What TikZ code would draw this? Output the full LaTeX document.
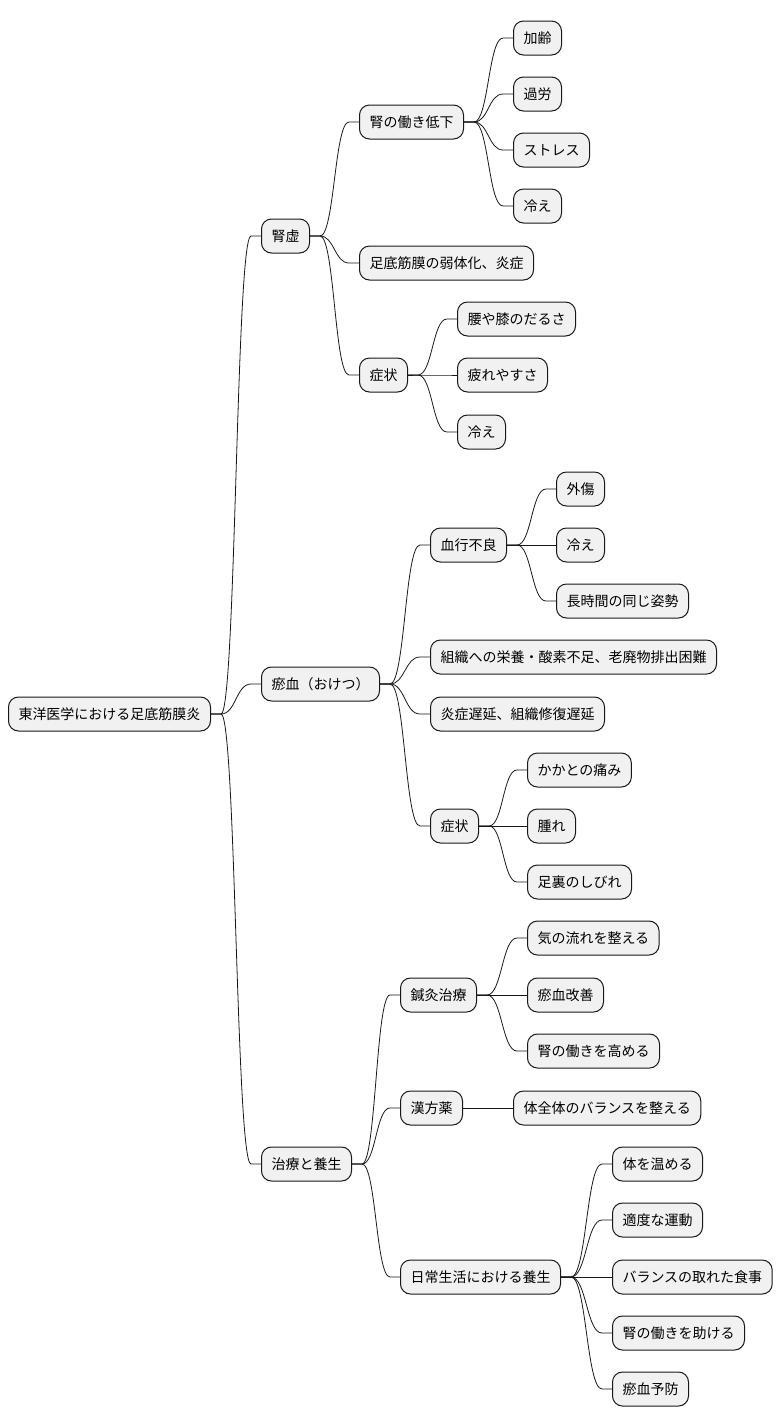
\documentclass[tikz,border=0pt]{standalone}
\usepackage{fontspec}
\setmainfont{Noto Sans CJK JP}
\usepackage{tikz}
\usetikzlibrary{calc}
\usepackage{xcolor}
\definecolor{boxfill}{HTML}{F1F1F1}
\definecolor{boxline}{HTML}{181818}

\tikzset{
  topic/.style={draw=boxline, fill=boxfill, line width=1pt, rounded corners=10pt,
    minimum height=34pt, inner xsep=10pt, inner ysep=0pt, anchor=west,
    text height=12pt, text depth=2pt, font=\fontsize{14}{16}\selectfont},
  link/.style={draw=boxline, line width=0.8pt}
}

% parent -> child, short stubs and an S curve
\newcommand{\branch}[2]{%
  \draw[link] let \p1=($(#1.east)+(10pt,0)$), \p2=($(#2.west)+(-10pt,0)$),
    \n1={0.5*(\x1+\x2)} in
    (#1.east) -- (\p1) .. controls (\n1,\y1) and (\n1,\y2) .. (\p2) -- (#2.west);}

\begin{document}
\begin{tikzpicture}[x=1pt,y=-1pt]
\useasboundingbox (0,0) rectangle (782,1428);

% Root
\node[topic] (root) at (8,714) {東洋医学における足底筋膜炎};

% 腎虚
\node[topic] (jinkyo) at (261,236) {腎虚};
\node[topic] (teika) at (359,122) {腎の働き低下};
\node[topic] (karei) at (513,38) {加齢};
\node[topic] (karou) at (513,94) {過労};
\node[topic] (stress) at (513,150) {ストレス};
\node[topic] (hieA) at (513,206) {冷え};
\node[topic] (jakutai) at (359,263) {足底筋膜の弱体化、炎症};
\node[topic] (shojoA) at (359,375) {症状};
\node[topic] (darusa) at (457,319) {腰や膝のだるさ};
\node[topic] (tsukare) at (457,375) {疲れやすさ};
\node[topic] (hieB) at (457,432) {冷え};

% 瘀血
\node[topic] (oketsu) at (261,684) {瘀血（おけつ）};
\node[topic] (furyo) at (430,545) {血行不良};
\node[topic] (gaisho) at (556,489) {外傷};
\node[topic] (hieC) at (556,545) {冷え};
\node[topic] (shisei) at (556,601) {長時間の同じ姿勢};
\node[topic] (eiyou) at (430,657) {組織への栄養・酸素不足、老廃物排出困難};
\node[topic] (chien) at (430,714) {炎症遅延、組織修復遅延};
\node[topic] (shojoB) at (430,826) {症状};
\node[topic] (itami) at (527,770) {かかとの痛み};
\node[topic] (hare) at (527,826) {腫れ};
\node[topic] (shibire) at (527,882) {足裏のしびれ};

% 治療と養生
\node[topic] (chiryo) at (261,1164) {治療と養生};
\node[topic] (shinkyu) at (400,995) {鍼灸治療};
\node[topic] (nagare) at (527,938) {気の流れを整える};
\node[topic] (kaizen) at (527,995) {瘀血改善};
\node[topic] (takameru) at (527,1051) {腎の働きを高める};
\node[topic] (kampo) at (400,1108) {漢方薬};
\node[topic] (zentai) at (513,1108) {体全体のバランスを整える};
\node[topic] (nichijo) at (400,1277) {日常生活における養生};
\node[topic] (atatame) at (612,1164) {体を温める};
\node[topic] (undo) at (612,1220) {適度な運動};
\node[topic] (shokuji) at (612,1277) {バランスの取れた食事};
\node[topic] (tasukeru) at (612,1333) {腎の働きを助ける};
\node[topic] (yobo) at (612,1389) {瘀血予防};

% Connectors
\foreach \a/\b in {root/jinkyo, root/oketsu, root/chiryo,
    jinkyo/teika, jinkyo/jakutai, jinkyo/shojoA,
    teika/karei, teika/karou, teika/stress, teika/hieA,
    shojoA/darusa, shojoA/tsukare, shojoA/hieB,
    oketsu/furyo, oketsu/eiyou, oketsu/chien, oketsu/shojoB,
    furyo/gaisho, furyo/hieC, furyo/shisei,
    shojoB/itami, shojoB/hare, shojoB/shibire,
    chiryo/shinkyu, chiryo/kampo, chiryo/nichijo,
    shinkyu/nagare, shinkyu/kaizen, shinkyu/takameru,
    kampo/zentai,
    nichijo/atatame, nichijo/undo, nichijo/shokuji, nichijo/tasukeru, nichijo/yobo}
  \branch{\a}{\b};
\end{tikzpicture}
\end{document}
